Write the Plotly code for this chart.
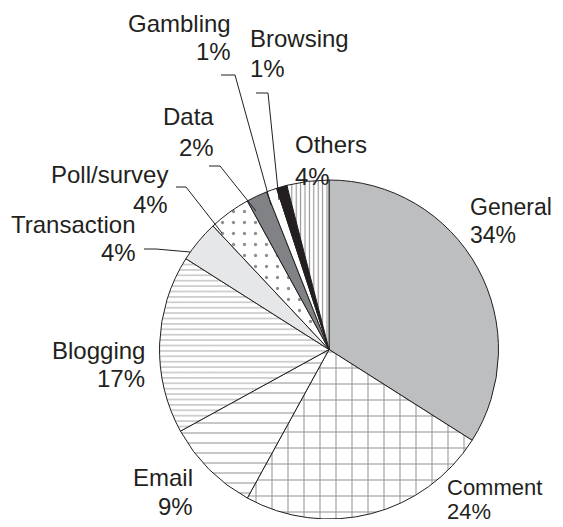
import plotly.graph_objects as go

# ---- data ----
categories = ["General", "Comment", "Email", "Blogging", "Transaction",
              "Poll/survey", "Data", "Gambling", "Browsing", "Others"]
values = [34, 24, 9, 17, 4, 4, 2, 1, 1, 4]

# ---- styles ----
OFF = 8                                # html body margin
W, H = 563 - 2 * OFF, 527 - 2 * OFF    # page fits the window without scrollbars
INK = "#231f20"
fill_colors = ["#bcbec0", "white", "white", "white", "#e6e7e8",
               "white", "#808285", "white", INK, "white"]
pattern_shapes = ["", "+", "-", "-", "", ".", "", "", "", "|"]
pattern_fg = [INK, INK, INK, "#5a5a5a", INK, INK, INK, INK, INK, INK]
pattern_size = [8, 16, 10, 5.4, 8, 11, 8, 8, 8, 4.4]
pattern_solid = [0.1, 0.12, 0.1, 0.2, 0.1, 0.07, 0.1, 0.1, 0.1, 0.25]

# pie geometry (window pixels)
cx, cy, R = 329, 349.5, 169.5

def px(x):
    return (x - OFF) / W

def py(y):
    return 1 - (y - OFF) / H

def clamp(v):
    return min(1.0, max(0.0, v))

fig = go.Figure(go.Pie(
    labels=categories,
    values=values,
    sort=False,
    direction="clockwise",
    rotation=0,
    textinfo="none",
    hoverinfo="label+percent",
    marker=dict(
        colors=fill_colors,
        line=dict(color=INK, width=1),
        pattern=dict(shape=pattern_shapes, fgcolor=pattern_fg, bgcolor=fill_colors,
                     size=pattern_size, solidity=pattern_solid, fillmode="overlay"),
    ),
    domain=dict(x=[clamp(px(cx - R)), clamp(px(cx + R))],
                y=[clamp(py(cy + R)), clamp(py(cy - R))]),
    showlegend=False,
))

# label layout: (anchor x, name centre y, pct centre y, side, font size)
label_pos = {
    "General":     (470, 207, 235, "left", 23),
    "Comment":     (447, 487, 511, "left", 22),
    "Email":       (193, 477, 506, "right", 24),
    "Blogging":    (145, 350, 378, "right", 24),
    "Transaction": (136, 224, 253, "right", 24),
    "Poll/survey": (168, 174, 204, "right", 24),
    "Data":        (214, 116, 147, "right", 24),
    "Gambling":    (231, 23, 51, "right", 24),
    "Browsing":    (250, 38, 68, "left", 24),
    "Others":      (295, 145, 176, "left", 24),
}
# leader lines: (start x, y, elbow x, end x, end y)
leaders = {
    "Gambling":    (221, 75, 235, 271, 205),
    "Browsing":    (256, 93, 268, 279, 200),
    "Data":        (209, 166, 220, 256, 211),
    "Poll/survey": (176, 187, 186, 222, 233),
    "Transaction": (144, 249, 156, 190, 252),
}

annotations = []
for cat, val in zip(categories, values):
    ax, yn, yp, side, fs = label_pos[cat]
    for txt, yy in ((cat, yn), (f"{val}%", yp)):
        annotations.append(dict(
            x=px(ax), y=py(yy), xref="paper", yref="paper",
            text=txt, showarrow=False, xanchor=side, yanchor="middle",
            align=side, borderpad=0, borderwidth=0,
            font=dict(family="Liberation Sans, Arial, sans-serif", size=fs, color=INK),
        ))

shapes = []
for cat, (x0, y0, xe, x1, y1) in leaders.items():
    shapes.append(dict(
        type="path", xref="paper", yref="paper",
        path=f"M {px(x0)} {py(y0)} L {px(xe)} {py(y0)} L {px(x1)} {py(y1)}",
        line=dict(color=INK, width=1),
    ))

fig.update_layout(
    width=W, height=H, autosize=False,
    margin=dict(l=0, r=0, t=0, b=0),
    paper_bgcolor="white", plot_bgcolor="white",
    annotations=annotations, shapes=shapes,
)

fig.write_html("out.html")
